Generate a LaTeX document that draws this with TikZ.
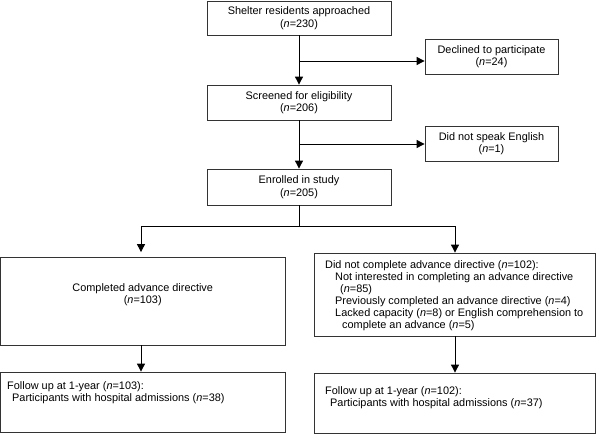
\documentclass[tikz,border=0pt]{standalone}
\usepackage{fontspec}
\setmainfont{Liberation Sans}
\usetikzlibrary{arrows.meta}
\begin{document}
\begin{tikzpicture}[x=1pt,y=-1pt,
  box/.style={draw=black!80, line width=0.8pt, rectangle, inner sep=0pt, font=\fontsize{10.9}{12.5}\selectfont, align=center},
  txt/.style={inner sep=0pt, font=\fontsize{10.9}{12}\selectfont, align=left, anchor=west},
  arr/.style={line width=0.9pt, -{Triangle[width=8pt,length=8pt]}},
  ln/.style={line width=0.9pt}]
\useasboundingbox (0,0) rectangle (598,434);

\node[box, minimum width=184pt, minimum height=34pt] (b1) at (299,18) {Shelter residents approached\\(\textit{n}=230)};
\node[box, minimum width=184pt, minimum height=35pt] (b2) at (299,102.5) {Screened for eligibility\\(\textit{n}=206)};
\node[box, minimum width=184pt, minimum height=36pt] (b3) at (299,187) {Enrolled in study\\(\textit{n}=205)};
\node[box, minimum width=133pt, minimum height=35pt] (dec) at (491.5,56.5) {Declined to participate\\(\textit{n}=24)};
\node[box, minimum width=133pt, minimum height=35pt] (eng) at (491.5,143.5) {Did not speak English\\(\textit{n}=1)};

\node[box, minimum width=284.5pt, minimum height=88pt] (lm) at (142.75,301) {};
\node[txt, anchor=center, align=center] (lmt) at (142.75,295) {Completed advance directive\\(\textit{n}=103)};

\node[box, minimum width=281pt, minimum height=83pt] (rm) at (454.5,294.5) {};
\node[txt] (rmt) at (325,296) {Did not complete advance directive (\textit{n}=102):\\
\hspace*{10pt}Not interested in completing an advance directive\\
\hspace*{15pt}(\textit{n}=85)\\
\hspace*{10pt}Previously completed an advance directive (\textit{n}=4)\\
\hspace*{10pt}Lacked capacity (\textit{n}=8) or English comprehension to\\
\hspace*{17pt}complete an advance (\textit{n}=5)};

\node[box, minimum width=284.5pt, minimum height=60pt] (lf) at (142.75,402) {};
\node[txt] (lft) at (7,393) {Follow up at 1-year (\textit{n}=103):\\
\hspace*{5pt}Participants with hospital admissions (\textit{n}=38)};

\node[box, minimum width=281pt, minimum height=60pt] (rf) at (454.5,403) {};
\node[txt] (rft) at (325,398) {Follow up at 1-year (\textit{n}=102):\\
\hspace*{5pt}Participants with hospital admissions (\textit{n}=37)};

% main column
\draw[arr] (b1) -- (b2);
\draw[arr] (b2) -- (b3);
\coordinate (j1) at (299,61);
\coordinate (j2) at (299,144);
\draw[arr] (j1) -- (j1 -| dec.west);
\draw[arr] (j2) -- (j2 -| eng.west);

% split
\coordinate (s) at (299,226);
\coordinate (sl) at (141,226);
\coordinate (sr) at (455,226);
\draw[ln] (b3.south) -- (s);
\draw[ln] (sl) -- (sr);
\draw[arr, shorten >=4.5pt] (sl) -- (sl |- lm.north);
\draw[arr] (sr) -- (sr |- rm.north);

% follow up
\draw[arr] (lm.south -| sl) -- (lf.north -| sl);
\draw[arr] (rm.south -| sr) -- (rf.north -| sr);
\end{tikzpicture}
\end{document}
